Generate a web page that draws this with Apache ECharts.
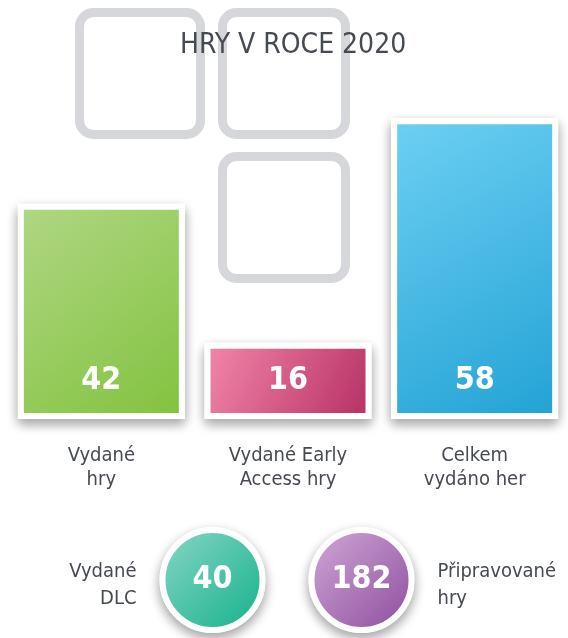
<!DOCTYPE html>
<html>
<head>
<meta charset="utf-8">
<script src="https://cdn.jsdelivr.net/npm/echarts@6/dist/echarts.min.js"></script>
<style>
  html, body { margin: 0; padding: 0; background: #fff; }
  #main { width: 568px; height: 638px; }
</style>
</head>
<body>
<div id="main"></div>
<script>
// data
var barNames = ['Vydané\nhry', 'Vydané Early\nAccess hry', 'Celkem\nvydáno her'];
var barValues = [42, 16, 58];
var circleNames = ['Vydané\nDLC', 'Připravované\nhry'];
var circleValues = [40, 182];

var font = "'DejaVu Sans Condensed', 'Liberation Sans Narrow', sans-serif";
var textColor = '#464a52';

function grad(c1, c2) {
    return new echarts.graphic.LinearGradient(0, 0, 1, 1, [
        { offset: 0, color: c1 },
        { offset: 1, color: c2 }
    ]);
}
var barColors = [
    grad('#b0d784', '#82c23e'),
    grad('#f388ab', '#b52f63'),
    grad('#6ed0f3', '#22a2d5')
];
var circleColors = [
    grad('#8ad7c7', '#12b089'),
    grad('#d3aad8', '#8a4b9c')
];

var shadow = {
    color: '#fff',
    opacity: 1,
    borderColor: '#fff',
    borderWidth: 6,
    shadowBlur: 12,
    shadowOffsetY: 5,
    shadowColor: 'rgba(0,0,0,0.32)'
};

var chartDom = document.getElementById('main');
var myChart = echarts.init(chartDom);

function square(x, y, w, h) {
    return {
        type: 'rect',
        z: 0,
        shape: { x: x, y: y, width: w, height: h, r: 14 },
        style: { fill: 'none', stroke: '#d6d7da', lineWidth: 9 }
    };
}

var option = {
    animation: false,
    title: {
        text: 'HRY V ROCE 2020',
        left: 175,
        top: 27,
        z: 10,
        textStyle: { fontFamily: font, fontSize: 28, fontWeight: 'normal', color: textColor }
    },
    graphic: [
        square(79.5, 12.5, 121, 122),
        square(222.5, 12.5, 123, 122),
        square(222.5, 156.5, 123, 122)
    ],
    grid: [
        { left: 8, right: 0, top: 97, bottom: 222 },
        { left: 138, right: 132, top: 540, height: 80 }
    ],
    xAxis: [
        {
            type: 'category',
            gridIndex: 0,
            data: barNames,
            axisLine: { show: false },
            axisTick: { show: false },
            axisLabel: {
                margin: 28,
                fontFamily: font,
                fontSize: 20,
                lineHeight: 24,
                color: textColor
            }
        },
        {
            type: 'category',
            gridIndex: 1,
            data: circleNames,
            show: false
        }
    ],
    yAxis: [
        { type: 'value', gridIndex: 0, min: 2.3, max: 62, show: false },
        { type: 'value', gridIndex: 1, min: -1, max: 1, show: false }
    ],
    series: [
        {
            // white frame with drop shadow behind each bar
            type: 'bar',
            xAxisIndex: 0,
            yAxisIndex: 0,
            barWidth: 167,
            silent: true,
            data: barValues,
            itemStyle: shadow
        },
        {
            type: 'bar',
            xAxisIndex: 0,
            yAxisIndex: 0,
            barWidth: 167,
            barGap: '-100%',
            data: barValues.map(function (v, i) {
                return { value: v, itemStyle: { color: barColors[i] } };
            }),
            itemStyle: { borderColor: '#fff', borderWidth: 6 },
            label: {
                show: true,
                position: 'insideBottom',
                distance: 22,
                fontFamily: font,
                fontSize: 32,
                fontWeight: 'bold',
                color: '#fff'
            }
        },
        {
            // white ring with shadow + side captions
            type: 'scatter',
            xAxisIndex: 1,
            yAxisIndex: 1,
            symbolSize: 100,
            silent: true,
            itemStyle: shadow,
            data: circleNames.map(function (n, i) {
                return {
                    value: [i, 0],
                    label: {
                        position: i === 0 ? 'left' : 'right',
                        align: i === 0 ? 'right' : 'left'
                    }
                };
            }),
            label: {
                show: true,
                distance: 23,
                offset: [0, 5],
                formatter: function (p) { return circleNames[p.dataIndex]; },
                fontFamily: font,
                fontSize: 20,
                lineHeight: 27,
                color: textColor
            }
        },
        {
            type: 'scatter',
            xAxisIndex: 1,
            yAxisIndex: 1,
            symbolSize: 100,
            data: circleValues.map(function (v, i) {
                return { value: [i, 0, v], itemStyle: { color: circleColors[i] } };
            }),
            itemStyle: { opacity: 1, borderColor: '#fff', borderWidth: 6 },
            label: {
                show: true,
                position: 'inside',
                formatter: function (p) { return p.value[2]; },
                fontFamily: font,
                fontSize: 32,
                fontWeight: 'bold',
                color: '#fff'
            }
        }
    ]
};

option && myChart.setOption(option);
</script>
</body>
</html>
